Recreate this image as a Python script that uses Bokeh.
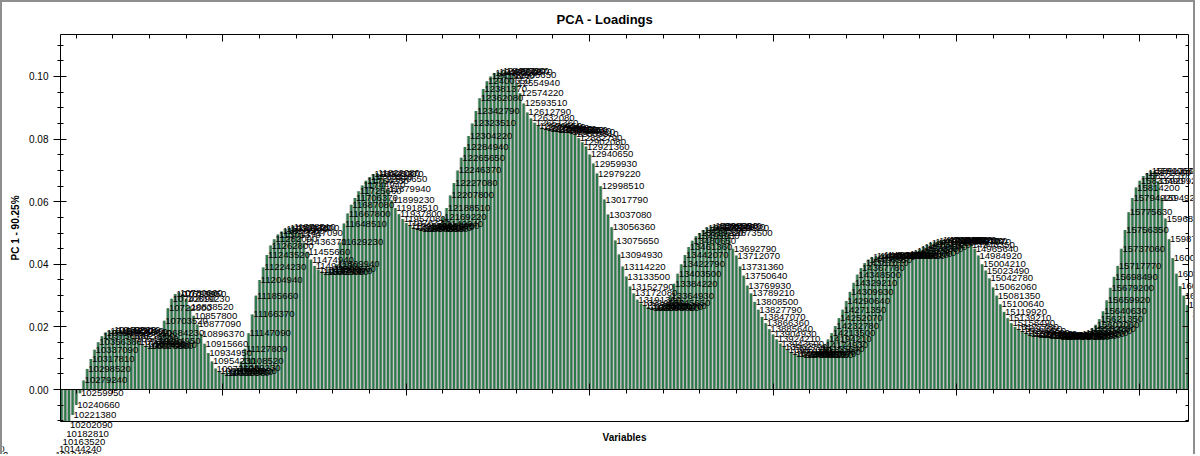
from bokeh.plotting import figure
from bokeh.models import (Range1d, LinearAxis, SingleIntervalTicker, NumeralTickFormatter,
                          ColumnDataSource, LabelSet, BoxAnnotation, CustomLabelingPolicy,
                          CDSView, BooleanFilter)
from bokeh.core.properties import value
from bokeh.embed import file_html
from bokeh.resources import INLINE

# ---------------- data ----------------
first_index = -22            # index of first variable (bars left of the visible window)
first_label_index = 11       # variable index whose label is 10259950
first_label = 10259950
label_step = 19285.6

loadings = [
    # -22 .. -15
    -0.0142, -0.0165, -0.0190, -0.0210, -0.0230, -0.0250, -0.0265, -0.0280,
    # -14 .. -5
    -0.0290, -0.0300, -0.0305, -0.0310, -0.0310, -0.0310, -0.0305, -0.0300, -0.0295, -0.0290,
    # -4 .. 5
    -0.0280, -0.0270, -0.0260, -0.0250, -0.0243, -0.0235, -0.0227, -0.0218, -0.0208, -0.0190,
    # 6 .. 15
    -0.0168, -0.0142, -0.0113, -0.0081, -0.0049, -0.0012, 0.0029, 0.0066, 0.0098, 0.0127,
    # 16 .. 25
    0.0151, 0.0170, 0.0182, 0.0188, 0.0190, 0.0190, 0.0188, 0.0185, 0.0180, 0.0172,
    # 26 .. 35
    0.0162, 0.0152, 0.0145, 0.0140, 0.0140, 0.0143, 0.0155, 0.0180, 0.0220, 0.0260,
    # 36 .. 45
    0.0290, 0.0305, 0.0310, 0.0305, 0.0290, 0.0265, 0.0236, 0.0208, 0.0178, 0.0146,
    # 46 .. 55
    0.0117, 0.0090, 0.0067, 0.0058, 0.0054, 0.0053, 0.0055, 0.0060, 0.0068, 0.0090,
    # 56 .. 65
    0.0130, 0.0180, 0.0240, 0.0300, 0.0350, 0.0390, 0.0430, 0.0460, 0.0480, 0.0495,
    # 66 .. 75
    0.0505, 0.0512, 0.0517, 0.0520, 0.0515, 0.0500, 0.0470, 0.0440, 0.0415, 0.0395,
    # 76 .. 85
    0.0383, 0.0377, 0.0375, 0.0378, 0.0385, 0.0400, 0.0470, 0.0530, 0.0562, 0.0590,
    # 86 .. 95
    0.0612, 0.0633, 0.0652, 0.0667, 0.0679, 0.0688, 0.0692, 0.0688, 0.0672, 0.0640,
    # 96 .. 105
    0.0605, 0.0580, 0.0560, 0.0545, 0.0532, 0.0523, 0.0518, 0.0515, 0.0514, 0.0514,
    # 106 .. 115
    0.0515, 0.0518, 0.0522, 0.0530, 0.0550, 0.0580, 0.0620, 0.0660, 0.0700, 0.0740,
    # 116 .. 125
    0.0775, 0.0810, 0.0850, 0.0890, 0.0930, 0.0960, 0.0985, 0.1000, 0.1010, 0.1015,
    # 126 .. 135
    0.1017, 0.1017, 0.1015, 0.1005, 0.0980, 0.0946, 0.0914, 0.0885, 0.0866, 0.0852,
    # 136 .. 145
    0.0843, 0.0837, 0.0834, 0.0832, 0.0831, 0.0830, 0.0830, 0.0829, 0.0827, 0.0823,
    # 146 .. 155
    0.0815, 0.0803, 0.0790, 0.0776, 0.0751, 0.0722, 0.0690, 0.0649, 0.0607, 0.0559,
    # 156 .. 165
    0.0518, 0.0476, 0.0431, 0.0393, 0.0361, 0.0329, 0.0307, 0.0287, 0.0275, 0.0268,
    # 166 .. 175
    0.0264, 0.0262, 0.0262, 0.0264, 0.0268, 0.0276, 0.0300, 0.0338, 0.0370, 0.0400,
    # 176 .. 185
    0.0430, 0.0455, 0.0475, 0.0490, 0.0500, 0.0510, 0.0516, 0.0520, 0.0522, 0.0522,
    # 186 .. 195
    0.0520, 0.0515, 0.0500, 0.0450, 0.0428, 0.0393, 0.0364, 0.0332, 0.0307, 0.0280,
    # 196 .. 205
    0.0255, 0.0232, 0.0212, 0.0193, 0.0176, 0.0160, 0.0147, 0.0136, 0.0127, 0.0120,
    # 206 .. 215
    0.0115, 0.0112, 0.0110, 0.0110, 0.0111, 0.0114, 0.0120, 0.0130, 0.0143, 0.0160,
    # 216 .. 225
    0.0180, 0.0203, 0.0228, 0.0255, 0.0283, 0.0312, 0.0341, 0.0367, 0.0388, 0.0404,
    # 226 .. 235
    0.0415, 0.0422, 0.0426, 0.0428, 0.0429, 0.0429, 0.0428, 0.0427, 0.0427, 0.0428,
    # 236 .. 245
    0.0430, 0.0433, 0.0437, 0.0442, 0.0448, 0.0455, 0.0462, 0.0468, 0.0472, 0.0475,
    # 246 .. 255
    0.0477, 0.0478, 0.0478, 0.0477, 0.0476, 0.0475, 0.0473, 0.0470, 0.0463, 0.0450,
    # 256 .. 265
    0.0428, 0.0400, 0.0380, 0.0355, 0.0326, 0.0300, 0.0272, 0.0248, 0.0228, 0.0212,
    # 266 .. 275
    0.0200, 0.0192, 0.0186, 0.0182, 0.0179, 0.0177, 0.0175, 0.0174, 0.0173, 0.0172,
    # 276 .. 285
    0.0171, 0.0170, 0.0169, 0.0169, 0.0169, 0.0170, 0.0171, 0.0173, 0.0176, 0.0180,
    # 286 .. 295
    0.0186, 0.0195, 0.0207, 0.0225, 0.0250, 0.0285, 0.0325, 0.0360, 0.0395, 0.0450,
    # 296 .. 305
    0.0510, 0.0566, 0.0612, 0.0645, 0.0667, 0.0682, 0.0692, 0.0697, 0.0697, 0.0665,
    # 306 .. 315
    0.0612, 0.0546, 0.0480, 0.0420, 0.0370, 0.0330, 0.0300, 0.0270, 0.0240, 0.0215,
    # 316 .. 318
    0.0195, 0.0178, 0.0165,
]

var_index = list(range(first_index, first_index + len(loadings)))
var_labels = [str(int(round((first_label + (i - first_label_index) * label_step) / 10.0)) * 10)
              for i in var_index]

title_text = "PCA - Loadings"
x_title = "Variables"
y_title = "PC 1 - 90.25%"

# visible plotting box (data units)
box_x = (5.7, 313.3)
box_y = (-0.0102, 0.1134)

# ---------------- figure ----------------
FONT = "Liberation Sans"
B = 2                      # window border width (px)
W, H = 1195, 454
TOP = 27 - B               # room for the title above the drawing area
BOX_L, BOX_R = 60 - B, 1188 - B
BOX_T, BOX_B = 34 - B, 421 - B

src = ColumnDataSource(dict(x=var_index, y=loadings, lab=var_labels))
# bars are only drawn inside the plotting box; labels are drawn for all variables
in_box = [box_x[0] - 0.5 < i < box_x[1] + 0.5 for i in var_index]
bar_view = CDSView(filter=BooleanFilter(in_box))

px_per_x = (BOX_R - BOX_L) / (box_x[1] - box_x[0])
px_per_y = (BOX_B - BOX_T) / (box_y[1] - box_y[0])
x_start = box_x[0] - BOX_L / px_per_x
x_end = x_start + W / px_per_x
y_end = box_y[1] + (BOX_T - TOP) / px_per_y
y_start = box_y[0] - (H - BOX_B) / px_per_y

p = figure(width=W, height=H,
           x_range=Range1d(x_start, x_end), y_range=Range1d(y_start, y_end),
           output_backend="svg", toolbar_location=None,
           x_axis_location=None, y_axis_location=None,
           min_border_left=0, min_border_right=0, min_border_top=TOP, min_border_bottom=0)
p.styles = {"border-left": "%dpx solid #8e8e8e" % B,
            "border-top": "%dpx solid #8e8e8e" % B,
            "border-right": "%dpx solid #8e8e8e" % B}
p.grid.visible = False
p.outline_line_color = None
p.background_fill_color = "white"
p.border_fill_color = "white"

p.title.text = title_text
p.title.align = "left"
p.title.offset = 556 - B
p.title.text_font = FONT
p.title.text_font_size = "13px"
p.title.text_font_style = "bold"
p.title.text_color = "black"
p.title.standoff = 2

# bars: light backing + green bar
p.vbar(x="x", top="y", bottom=0, width=1.0, source=src, view=bar_view,
       fill_color="#b8b3b8", line_color=None)
p.vbar(x="x", top="y", bottom=0, width=0.58, source=src, view=bar_view,
       fill_color="#2c7a49", line_color=None)

# mask bar parts outside the plotting box (labels stay visible, as in the original)
far_l, far_r = x_start - 50, x_end + 50
far_b, far_t = y_start - 1, y_end + 1
masks = [dict(left=far_l, right=box_x[0], bottom=far_b, top=far_t),
         dict(left=box_x[1], right=far_r, bottom=far_b, top=far_t),
         dict(left=far_l, right=far_r, bottom=far_b, top=box_y[0])]
for kw in masks:
    p.add_layout(BoxAnnotation(fill_color="white", fill_alpha=1.0, line_color=None,
                               level="glyph", **kw))

# labels on every bar
labels = LabelSet(x="x", y="y", text="lab", source=src, x_offset=1,
                  text_align="left", text_baseline="middle",
                  text_font=value(FONT), text_font_size="9.6px", text_color="black")
p.add_layout(labels)

no_labels = CustomLabelingPolicy(code="return []")

def tick_style(ax, hide_labels=True):
    ax.axis_line_color = "black"
    ax.major_tick_line_color = "black"
    ax.minor_tick_line_color = "black"
    ax.major_tick_line_width = 1
    ax.minor_tick_line_width = 1
    if hide_labels:
        ax.major_label_policy = no_labels
        ax.major_label_text_font_size = "0px"
        ax.major_label_standoff = 0

# left axis
yl = LinearAxis(ticker=SingleIntervalTicker(interval=0.02, num_minor_ticks=4),
                formatter=NumeralTickFormatter(format="0.00"),
                axis_label=y_title, fixed_location=box_x[0], bounds=box_y)
tick_style(yl, hide_labels=False)
yl.major_tick_in = 6
yl.major_tick_out = 7
yl.minor_tick_in = 3
yl.minor_tick_out = 3
yl.major_label_standoff = 5
yl.major_label_text_font = FONT
yl.major_label_text_font_size = "10px"
yl.major_label_text_color = "black"
yl.axis_label_text_font = FONT
yl.axis_label_text_font_size = "10px"
yl.axis_label_text_font_style = "bold"
yl.axis_label_text_color = "black"
yl.axis_label_standoff = 5
p.add_layout(yl, "left")

# right axis (ticks only)
yr = LinearAxis(ticker=SingleIntervalTicker(interval=0.02, num_minor_ticks=4),
                fixed_location=box_x[1], bounds=box_y)
tick_style(yr)
yr.major_tick_in = 6
yr.major_tick_out = 0
yr.minor_tick_in = 3
yr.minor_tick_out = 0
p.add_layout(yr, "right")

# top axis (ticks only)
xt = LinearAxis(ticker=SingleIntervalTicker(interval=50, num_minor_ticks=5),
                fixed_location=box_y[1], bounds=box_x)
tick_style(xt)
xt.major_tick_in = 7
xt.major_tick_out = 0
xt.minor_tick_in = 4
xt.minor_tick_out = 0
p.add_layout(xt, "above")

# axis through zero
x0 = LinearAxis(ticker=SingleIntervalTicker(interval=50, num_minor_ticks=5),
                fixed_location=0, bounds=box_x)
tick_style(x0)
x0.major_tick_in = 6
x0.major_tick_out = 6
x0.minor_tick_in = 0
x0.minor_tick_out = 4
p.add_layout(x0, "below")

# bottom edge of the box, carrying the axis title
xb = LinearAxis(ticker=SingleIntervalTicker(interval=50, num_minor_ticks=0),
                axis_label=x_title, fixed_location=box_y[0], bounds=box_x)
tick_style(xb)
xb.major_tick_line_color = None
xb.major_tick_out = 0
xb.major_tick_in = 0
xb.axis_label_text_font = FONT
xb.axis_label_text_font_size = "10px"
xb.axis_label_text_font_style = "bold"
xb.axis_label_text_color = "black"
xb.axis_label_standoff = 10
p.add_layout(xb, "below")

open("out.html", "w").write(file_html(p, INLINE))
